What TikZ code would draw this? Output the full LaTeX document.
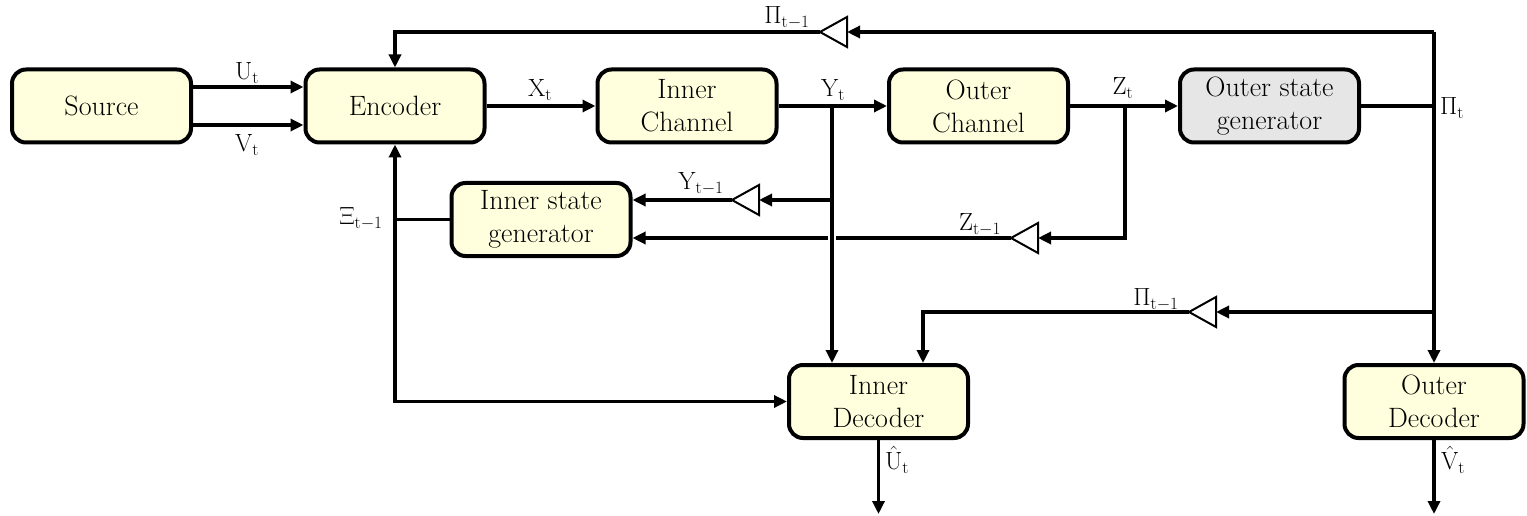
\documentclass[tikz,border=0pt]{standalone}
\usetikzlibrary{arrows.meta}
\definecolor{boxy}{RGB}{255,255,221}
\definecolor{boxg}{RGB}{230,230,230}
\newcommand{\myvar}[2]{$\mathrm{#1}_{\mathrm{#2}}$}
\tikzset{
 blk/.style={draw, line width=4pt, rounded corners=14pt, fill=boxy, minimum width=179pt, minimum height=73pt, align=center, font=\fontsize{28}{33}\selectfont, inner sep=0pt},
 wire/.style={line width=3.5pt},
 arr/.style={wire, -{Triangle[length=13pt,width=12pt]}},
 buf/.style={line width=2pt, fill=white, line join=miter},
 lbl/.style={font=\fontsize{25}{30}\selectfont, inner sep=1pt},
}
\begin{document}
\begin{tikzpicture}[x=1pt,y=-1pt]
\useasboundingbox (0,0) rectangle (1527,516);
% blocks
\node[blk] (src) at (101.5,106) {Source};
\node[blk] (enc) at (395,106) {Encoder};
\node[blk] (ich) at (687,106) {Inner\\Channel};
\node[blk] (och) at (978.5,106) {Outer\\Channel};
\node[blk, fill=boxg] (osg) at (1269.5,106) {Outer state\\generator};
\node[blk] (isg) at (541,219.5) {Inner state\\generator};
\node[blk] (idec) at (878.5,401.5) {Inner\\Decoder};
\node[blk] (odec) at (1434,401.5) {Outer\\Decoder};
% junction coordinates
\coordinate (yj) at (832,106);
\coordinate (zj) at (1125,106);
\coordinate (pj) at (1434,106);
\coordinate (ptop) at (1434,32);
\coordinate (plow) at (1434,312);
\coordinate (yb) at (832,200);
\coordinate (uout) at (878.5,514);
\coordinate (vout) at (1434,514);
% delay elements (base, apex)
\coordinate (d1b) at (847,32);   \coordinate (d1a) at (820,32);
\coordinate (d2b) at (759,200);  \coordinate (d2a) at (732,200);
\coordinate (d3b) at (1038,238); \coordinate (d3a) at (1011,238);
\coordinate (d4b) at (1216,312); \coordinate (d4a) at (1189,312);
\foreach \d in {d1,d2,d3,d4}{
  \draw[buf] ([yshift=15pt]\d b) -- (\d a) -- ([yshift=-15pt]\d b) -- cycle;
}
% connectors
\draw[arr] ([yshift=19pt]src.east) -- ([yshift=19pt]enc.west);
\draw[arr] ([yshift=-19pt]src.east) -- ([yshift=-19pt]enc.west);
\draw[arr] (enc.east) -- (ich.west);
\draw[arr] (ich.east) -- (och.west);
\draw[arr] (och.east) -- (osg.west);
\draw[wire] (osg.east) -- (pj);
\draw[arr] (ptop) -- (odec.north);
\draw[arr] (ptop) -- (d1b);
\draw[arr] (d1a) -| (enc.north);
\draw[arr] (plow) -- (d4b);
\draw[arr] (d4a) -| ([xshift=44.5pt]idec.north);
\draw[arr] (zj) |- (d3b);
\draw[arr] (d3a) -- (isg.east |- d3a);
\draw[white, line width=7.5pt] (832,232) -- (832,244);
\draw[arr] (yj) -- ([xshift=-46.5pt]idec.north);
\draw[arr] (yb) -- (d2b);
\draw[arr] (d2a) -- (isg.east |- d2a);
\draw[wire, {Triangle[length=13pt,width=12pt]}-{Triangle[length=13pt,width=12pt]}] (enc.south) |- (idec.west);
\draw[wire] (isg.west) -- (isg.west -| enc.south);
\draw[arr] (idec.south) -- (uout);
\draw[arr] (odec.south) -- (vout);
% labels
\node[lbl] (lu) at (247,73) {\myvar{U}{t}};
\node[lbl] (lv) at (247,145) {\myvar{V}{t}};
\node[lbl] (lx) at (540,90) {\myvar{X}{t}};
\node[lbl] (ly) at (833,90) {\myvar{Y}{t}};
\node[lbl] (lz) at (1123,88) {\myvar{Z}{t}};
\node[lbl] (lp) at (1452,108) {\myvar{\Pi}{t}};
\node[lbl] (lp1) at (787,18) {\myvar{\Pi}{t-1}};
\node[lbl] (ly1) at (701,184) {\myvar{Y}{t-1}};
\node[lbl] (lz1) at (980,225) {\myvar{Z}{t-1}};
\node[lbl] (lxi) at (361,219) {\myvar{\Xi}{t-1}};
\node[lbl] (lp2) at (1156,300) {\myvar{\Pi}{t-1}};
\node[lbl, anchor=west] (lhu) at (884,460) {\myvar{\hat{U}}{t}};
\node[lbl, anchor=west] (lhv) at (1440,460) {\myvar{\hat{V}}{t}};
\end{tikzpicture}
\end{document}
